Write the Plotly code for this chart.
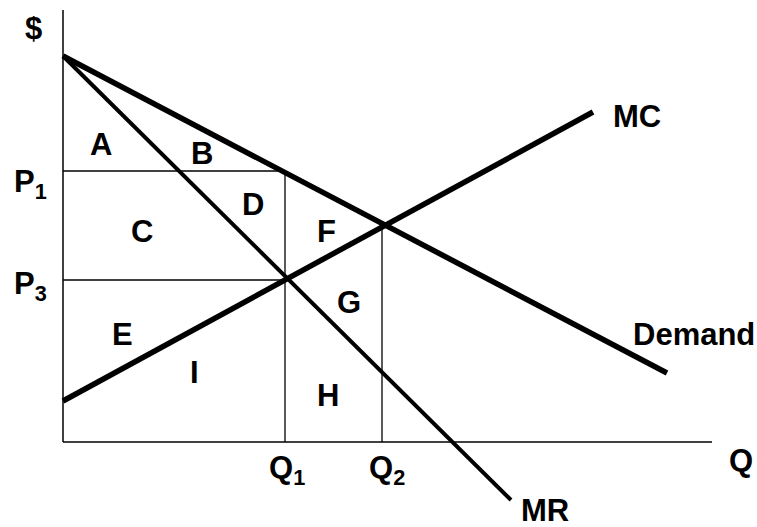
import plotly.graph_objects as go

# curves, in plot units (Q along x, $ along y)
demand_q = [0, 60.4]
demand_p = [38.6, 6.9]
mr_q = [0, 44.8]
mr_p = [38.6, -5.8]
mc_q = [0, 53.0]
mc_p = [4.1, 33.0]

# equilibrium quantities and prices
q1, q2 = 22.2, 31.9
p1, p3 = 27.1, 16.2

# axis extents
q_max = 64.9
p_max = 43.2

# area / curve labels
labels = ["A", "B", "C", "D", "E", "F", "G", "H", "I",
          "MC", "Demand", "MR", "Q", "$",
          "P<sub>1</sub>", "P<sub>3</sub>", "Q<sub>1</sub>", "Q<sub>2</sub>"]
label_pos = [(3.8, 29.8), (13.9, 28.9), (7.9, 21.1), (19.0, 23.8), (5.9, 10.8),
             (26.3, 21.1), (28.6, 14.0), (26.5, 4.7), (13.1, 7.0),
             (57.4, 32.6), (63.1, 10.8), (48.2, -6.8), (67.8, -1.8), (-3.0, 41.4),
             (-3.3, 25.8), (-3.3, 15.6), (22.4, -2.8), (32.4, -2.8)]

fig = go.Figure()


def seg(x, y, w):
    fig.add_trace(go.Scatter(x=x, y=y, mode="lines",
                             line=dict(color="black", width=w),
                             hoverinfo="skip", showlegend=False))


# axes
seg([0, 0], [0, p_max], 1.5)
seg([0, q_max], [0, 0], 1.5)

# guide lines
seg([0, q1], [p1, p1], 1.3)
seg([0, q1], [p3, p3], 1.3)
seg([q1, q1], [0, p1], 1.3)
seg([q2, q2], [0, mc_p[0] + (mc_p[1] - mc_p[0]) / mc_q[1] * q2], 1.3)

# curves
seg(demand_q, demand_p, 5.5)
seg(mr_q, mr_p, 4)
seg(mc_q, mc_p, 5.5)

for txt, (x, y) in zip(labels, label_pos):
    fig.add_annotation(x=x, y=y, text="<b>" + txt + "</b>", showarrow=False,
                       xanchor="center", yanchor="middle",
                       font=dict(family="Arial, Liberation Sans", size=31, color="black"))

fig.update_layout(
    width=757, height=527,
    margin=dict(l=0, r=0, t=0, b=0),
    paper_bgcolor="white", plot_bgcolor="white",
    xaxis=dict(range=[-6.3, 69.4], visible=False, fixedrange=True),
    yaxis=dict(range=[-8.5, 44.2], visible=False, fixedrange=True),
)

# drop the browser's default body margin so the chart sits at the page corner
fig.write_html("out.html", config={"displayModeBar": False},
               post_script="document.body.style.margin='0';")
